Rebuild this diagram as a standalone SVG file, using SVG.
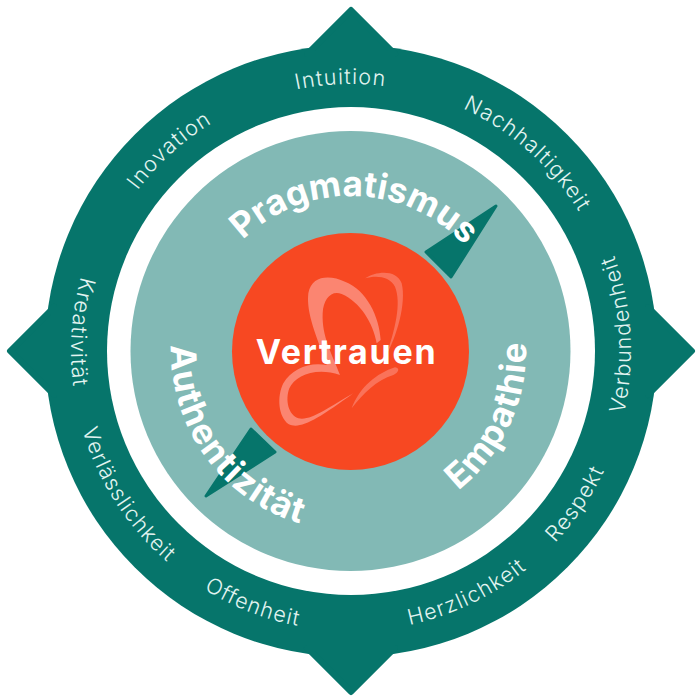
<svg xmlns="http://www.w3.org/2000/svg" width="700" height="700" viewBox="0 0 700 700">
<style>
.o{font-family:"Inter","Liberation Sans",sans-serif;font-size:21.5px;font-weight:300;letter-spacing:1.2px;fill:#e2f4f1;text-anchor:middle}
.i{font-family:"Inter","Liberation Sans",sans-serif;font-size:35px;font-weight:700;letter-spacing:1.1px;fill:#fff;text-anchor:middle}
.t{fill:#06756b}
.b{fill:#fb8571}
</style>
<defs>
<path id="cwO" d="M351,618A267,267 0 1 1 351,84A267,267 0 1 1 351,618"/>
<path id="ccwO" d="M351,71A280,280 0 1 0 351,631A280,280 0 1 0 351,71"/>
<path id="cwI" d="M351,506A155,155 0 1 1 351,196A155,155 0 1 1 351,506"/>
<path id="ccwI" d="M351,171A180,180 0 1 0 351,531A180,180 0 1 0 351,171"/>
<path id="ccwE" d="M349,174A177,177 0 1 0 349,528A177,177 0 1 0 349,174"/>
</defs>
<rect width="700" height="700" fill="#fff"/>
<g id="ring">
<circle class="t" cx="351" cy="351" r="306"/>
<path class="t" stroke="#06756b" stroke-width="6" stroke-linejoin="round" d="M351,10L395,54H307ZM692,351L648,395V307ZM351,692L307,648H395ZM10,351L54,307V395Z"/>
<circle cx="351" cy="351" r="244" fill="#fff"/>
</g>
<g id="middle">
<circle cx="350.500" cy="351" r="220" fill="#82b9b5"/>
<path class="t" stroke="#06756b" stroke-width="3" stroke-linejoin="round" d="M496,206L451,277L426,252ZM206,496L251,429L275,452Z"/>
</g>
<g id="core">
<circle cx="350.500" cy="351.500" r="118.500" fill="#f74822"/>
<g id="butterfly" transform="translate(220 180) scale(.33333)">
<path class="b" d="M360,585C335,520 305,470 308,400C310,355 335,330 365,342C420,365 460,430 470,490L482,480C478,410 440,330 375,305C330,285 275,285 265,340C258,400 290,470 320,555C270,545 215,565 190,610C170,650 175,710 205,732C240,750 290,720 400,640C330,680 270,725 235,715C205,705 195,660 208,625C225,585 290,560 360,585Z"/>
<path class="b" opacity=".7" d="M435,295C470,272 530,268 545,310C560,370 530,470 497,530C525,450 545,370 525,320C510,290 470,285 435,295Z"/>
<path class="b" opacity=".7" d="M395,685C420,620 470,580 525,562C542,565 535,578 520,585C470,600 430,640 395,685Z"/>
</g>
<text x="346.500" y="364" font-family="Inter,'Liberation Sans',sans-serif" font-size="34" font-weight="700" letter-spacing="1.700" fill="#fff" text-anchor="middle">Vertrauen</text>
</g>
<g id="values">
<text class="o"><textPath href="#cwO" startOffset="49.4%">Intuition</textPath></text>
<text class="o"><textPath href="#cwO" startOffset="61.6%">Nachhaltigkeit</textPath></text>
<text class="o"><textPath href="#cwO" startOffset="38.3%">Inovation</textPath></text>
<text class="o"><textPath href="#ccwO" startOffset="23.9%">Kreativität</textPath></text>
<text class="o"><textPath href="#ccwO" startOffset="34.1%">Verlässlichkeit</textPath></text>
<text class="o"><textPath href="#ccwO" startOffset="44.1%">Offenheit</textPath></text>
<text class="o"><textPath href="#ccwO" startOffset="57.1%">Herzlichkeit</textPath></text>
<text class="o"><textPath href="#ccwO" startOffset="65.5%">Respekt</textPath></text>
<text class="o"><textPath href="#ccwO" startOffset="76%">Verbundenheit</textPath></text>
</g>
<g id="pillars">
<text class="i" style="letter-spacing:.1px"><textPath href="#cwI" startOffset="50.400%">Pragmatismus</textPath></text>
<text class="i"><textPath href="#ccwI" startOffset="35%">Authentizität</textPath></text>
<text class="i"><textPath href="#ccwE" startOffset="68.200%">Empathie</textPath></text>
</g>
</svg>
